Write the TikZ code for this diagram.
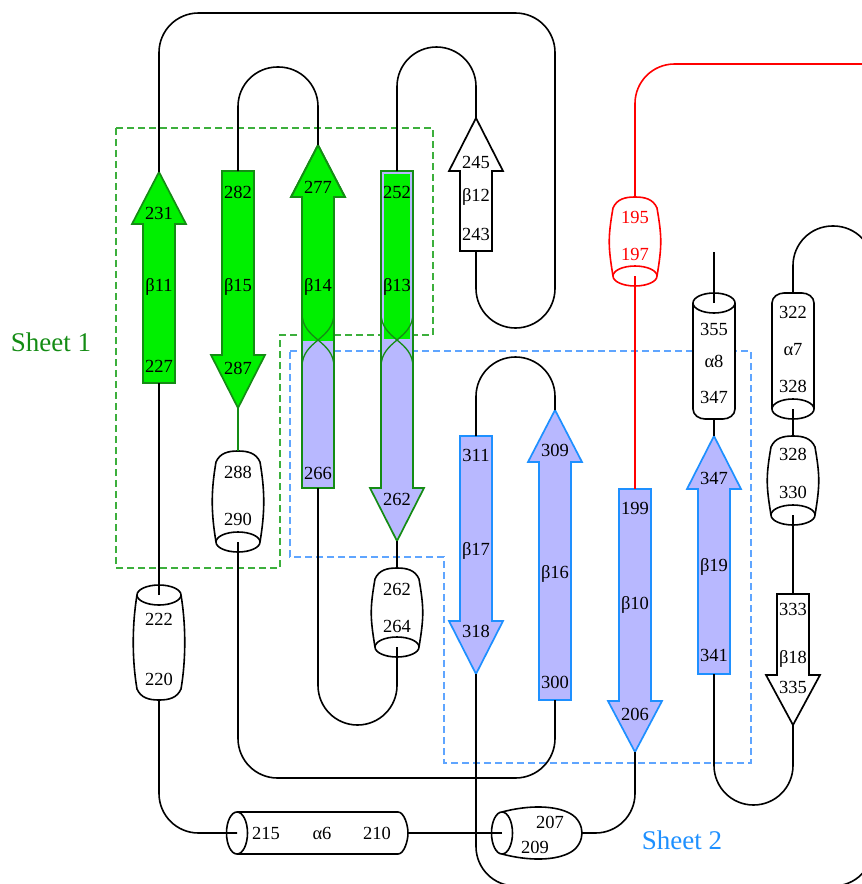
\documentclass[tikz,border=0pt]{standalone}
\usepackage{fontspec}
\setmainfont{Liberation Serif}
\usepackage{tikz}
\usetikzlibrary{calc}
\definecolor{sheetgreen}{RGB}{0,240,0}
\definecolor{edgegreen}{RGB}{20,140,20}
\definecolor{boxgreen}{RGB}{60,175,60}
\definecolor{sheetblue}{RGB}{30,144,255}
\definecolor{boxblue}{RGB}{95,165,255}
\definecolor{strandlav}{RGB}{184,184,255}

% strand pointing up: name, x, tip, head base, tail
\newcommand{\strandup}[6][]{%
  \draw[strand,#1] ({#3-16},#6) -- ({#3-16},#5) -- ({#3-27},#5) -- (#3,#4)
    -- ({#3+27},#5) -- ({#3+16},#5) -- ({#3+16},#6) -- cycle;
  \coordinate (#2 tip) at (#3,#4);
  \coordinate (#2 tail) at (#3,#6);}
% strand pointing down: name, x, tail, head base, tip
\newcommand{\stranddown}[6][]{%
  \draw[strand,#1] ({#3-16},#4) -- ({#3-16},#5) -- ({#3-27},#5) -- (#3,#6)
    -- ({#3+27},#5) -- ({#3+16},#5) -- ({#3+16},#4) -- cycle;
  \coordinate (#2 tip) at (#3,#6);
  \coordinate (#2 tail) at (#3,#4);}
% short helix (barrel): name, x, cap y, ellipse y
\newcommand{\barrel}[5][]{%
  \pgfmathsetmacro{\hsgn}{sign(#5-#4)}%
  \fill[white] ({#3-22},#5) .. controls ({#3-27},{#5-30*\hsgn}) and ({#3-27},{#4+40*\hsgn}) .. ({#3-22},{#4+11*\hsgn})
    .. controls ({#3-18},{#4+2*\hsgn}) and ({#3-10},#4) .. (#3,#4)
    .. controls ({#3+10},#4) and ({#3+18},{#4+2*\hsgn}) .. ({#3+22},{#4+11*\hsgn})
    .. controls ({#3+27},{#4+40*\hsgn}) and ({#3+27},{#5-30*\hsgn}) .. ({#3+22},#5) -- cycle;
  \draw[helix,#1] ({#3-22},#5) .. controls ({#3-27},{#5-30*\hsgn}) and ({#3-27},{#4+40*\hsgn}) .. ({#3-22},{#4+11*\hsgn})
    .. controls ({#3-18},{#4+2*\hsgn}) and ({#3-10},#4) .. (#3,#4)
    .. controls ({#3+10},#4) and ({#3+18},{#4+2*\hsgn}) .. ({#3+22},{#4+11*\hsgn})
    .. controls ({#3+27},{#4+40*\hsgn}) and ({#3+27},{#5-30*\hsgn}) .. ({#3+22},#5);
  \filldraw[helix,fill=white,#1] (#3,#5) ellipse (22 and 10);
  \coordinate (#2 cap) at (#3,#4);
  \coordinate (#2 ell) at (#3,#5);}
% long helix (cylinder): name, x, cap y, ellipse y
\newcommand{\cylinder}[5][]{%
  \pgfmathsetmacro{\hsgn}{sign(#5-#4)}%
  \fill[white] ({#3-21},#5) -- ({#3-21},{#4+10*\hsgn}) .. controls ({#3-21},{#4+4*\hsgn}) and ({#3-15},#4) .. ({#3-9},#4)
    -- ({#3+9},#4) .. controls ({#3+15},#4) and ({#3+21},{#4+4*\hsgn}) .. ({#3+21},{#4+10*\hsgn}) -- ({#3+21},#5) -- cycle;
  \draw[helix,#1] ({#3-21},#5) -- ({#3-21},{#4+10*\hsgn}) .. controls ({#3-21},{#4+4*\hsgn}) and ({#3-15},#4) .. ({#3-9},#4)
    -- ({#3+9},#4) .. controls ({#3+15},#4) and ({#3+21},{#4+4*\hsgn}) .. ({#3+21},{#4+10*\hsgn}) -- ({#3+21},#5);
  \filldraw[helix,fill=white,#1] (#3,#5) ellipse (21 and 10);
  \coordinate (#2 cap) at (#3,#4);
  \coordinate (#2 ell) at (#3,#5);}

\begin{document}
\begin{tikzpicture}[
    x=1pt, y=-1pt,
    every node/.style={font=\fontsize{18.5}{20}\selectfont, inner sep=0pt},
    strand/.style={line width=1.7pt, line join=miter},
    greenstrand/.style={fill=sheetgreen, draw=edgegreen},
    bluestrand/.style={fill=strandlav, draw=sheetblue},
    plainstrand/.style={fill=white, draw=black},
    helix/.style={line width=1.6pt},
    backbone/.style={line width=1.6pt, rounded corners=39.5pt},
    sheetbox/.style={line width=1.2pt, dash pattern=on 7pt off 4pt},
    sheetlabel/.style={font=\fontsize{27}{30}\selectfont}
]
\useasboundingbox (0,0) rectangle (862,884);
\clip (0,0) rectangle (862,884);

% Sheet outlines
\draw[sheetbox, boxgreen] (116,128) -- (433,128) -- (433,335) -- (280,335) -- (280,568) -- (116,568) -- cycle;
\draw[sheetbox, boxblue] (290,351) -- (751,351) -- (751,763) -- (444,763) -- (444,557) -- (290,557) -- cycle;
\node[sheetlabel, text=edgegreen] (sheet1) at (51,342) {Sheet 1};
\node[sheetlabel, text=sheetblue] (sheet2) at (682,840) {Sheet 2};

% Sheet 1 strands
\strandup[greenstrand]{b11}{159}{172}{224}{383}
\stranddown[greenstrand]{b15}{238}{171}{355}{408}
\strandup[greenstrand]{b14}{318}{145}{197}{488}
\fill[strandlav] (302,341) rectangle (334,487);
\strandup[fill=none, draw=edgegreen]{b14}{318}{145}{197}{488}
\draw[edgegreen, line width=1.3pt] (302,313) .. controls (302,340) and (334,340) .. (334,367);
\draw[edgegreen, line width=1.3pt] (334,313) .. controls (334,340) and (302,340) .. (302,367);
\stranddown[fill=strandlav, draw=edgegreen]{b13}{397}{171}{488}{541}
\fill[sheetgreen] (384,174) rectangle (410,339);
\draw[edgegreen, line width=1.3pt] (381,313) .. controls (381,340) and (413,340) .. (413,367);
\draw[edgegreen, line width=1.3pt] (413,313) .. controls (413,340) and (381,340) .. (381,367);
\strandup[plainstrand]{b12}{476}{118}{171}{251}

% Sheet 2 strands
\stranddown[bluestrand]{b17}{476}{436}{621}{674}
\strandup[bluestrand]{b16}{555}{410}{462}{700}
\stranddown[bluestrand]{b10}{635}{489}{701}{752}
\strandup[bluestrand]{b19}{714}{436}{489}{674}
\stranddown[plainstrand]{b18}{793}{594}{675}{725}

% Helices
\barrel{h222}{159}{700}{595}
\barrel{h288}{238}{451}{542}
\barrel{h262}{397}{568}{647}
\barrel[draw=red]{h195}{635}{197}{276}
\barrel{h328}{793}{436}{515}
\cylinder{a8}{714}{419}{303}
\cylinder{a7}{793}{293}{409}
\fill[white] (237,812) -- (398,812) .. controls (404,812) and (408,825) .. (408,833)
  .. controls (408,841) and (404,854) .. (398,854) -- (237,854) -- cycle;
\draw[helix] (237,812) -- (398,812) .. controls (404,812) and (408,825) .. (408,833)
  .. controls (408,841) and (404,854) .. (398,854) -- (237,854);
\filldraw[helix, fill=white] (237,833) ellipse (10.5 and 21);
\coordinate (a6 ell) at (237,833);
\coordinate (a6 cap) at (408,833);
\fill[white] (502,812) .. controls (528,805) and (556,805) .. (571,814) .. controls (578,818) and (582,826) .. (582,833)
  .. controls (582,840) and (578,848) .. (571,852) .. controls (556,861) and (528,861) .. (502,854) -- cycle;
\draw[helix] (502,812) .. controls (528,805) and (556,805) .. (571,814) .. controls (578,818) and (582,826) .. (582,833)
  .. controls (582,840) and (578,848) .. (571,852) .. controls (556,861) and (528,861) .. (502,854);
\filldraw[helix, fill=white] (502,833) ellipse (10.5 and 21);
\coordinate (h207 ell) at (502,833);
\coordinate (h207 cap) at (582,833);

% Chain, from the N-terminus
\coordinate (nterm) at (862,64);
\draw[backbone, red] (nterm) -| (h195 cap);
\draw[backbone, red] (h195 ell) -- (b10 tail);
\draw[backbone] (b10 tip) |- (h207 cap);
\draw[backbone] (h207 ell) -- (a6 cap);
\draw[backbone] (a6 ell) -| (h222 cap);
\draw[backbone] (h222 ell) -- (b11 tail);
\draw[backbone] (b11 tip) -- ++(0,-159) -- ++(396,0) -- ++(0,315) -| (b12 tail);
\draw[backbone] (b12 tip) -- ++(0,-71) -| (b13 tail);
\draw[backbone] (b13 tip) -- (h262 cap);
\draw[backbone] (h262 ell) -- ++(0,78) -| (b14 tail);
\draw[backbone] (b14 tip) -- ++(0,-78) -| (b15 tail);
\draw[backbone, edgegreen] (b15 tip) -- (h288 cap);
\draw[backbone] (h288 ell) -- ++(0,236) -| (b16 tail);
\draw[backbone] (b16 tip) -- ++(0,-53) -| (b17 tail);
\draw[backbone] (b17 tip) -- ++(0,212) -- ++(397,0) -- ++(0,-660) -| (a7 cap);
\draw[backbone] (a7 ell) -- (h328 cap);
\draw[backbone] (h328 ell) -- (b18 tail);
\draw[backbone] (b18 tip) -- ++(0,80) -| (b19 tail);
\draw[backbone] (b19 tip) -- (a8 cap);
\draw[backbone] (a8 ell) -- ++(0,-51) coordinate (cterm);

% Strand labels
\node (b11 hi) at (159,213) {231};
\node (b11 id) at (159,287) {β11};
\node (b11 lo) at (159,366) {227};
\node (b15 hi) at (238,192) {282};
\node (b15 id) at (238,287) {β15};
\node (b15 lo) at (238,368) {287};
\node (b14 hi) at (318,187) {277};
\node (b14 id) at (318,287) {β14};
\node (b14 lo) at (318,473) {266};
\node (b13 hi) at (397,192) {252};
\node (b13 id) at (397,287) {β13};
\node (b13 lo) at (397,499) {262};
\node (b12 hi) at (476,162) {245};
\node (b12 id) at (476,197) {β12};
\node (b12 lo) at (476,234) {243};
\node (b17 hi) at (476,455) {311};
\node (b17 id) at (476,551) {β17};
\node (b17 lo) at (476,631) {318};
\node (b16 hi) at (555,450) {309};
\node (b16 id) at (555,574) {β16};
\node (b16 lo) at (555,682) {300};
\node (b10 hi) at (635,508) {199};
\node (b10 id) at (635,605) {β10};
\node (b10 lo) at (635,714) {206};
\node (b19 hi) at (714,478) {347};
\node (b19 id) at (714,567) {β19};
\node (b19 lo) at (714,655) {341};
\node (b18 hi) at (793,609) {333};
\node (b18 id) at (793,659) {β18};
\node (b18 lo) at (793,687) {335};

% Helix labels
\node (h222 hi) at (159,619) {222};
\node (h222 lo) at (159,679) {220};
\node (h288 hi) at (238,472) {288};
\node (h288 lo) at (238,519) {290};
\node (h262 hi) at (397,589) {262};
\node (h262 lo) at (397,626) {264};
\node[text=red] (h195 hi) at (635,217) {195};
\node[text=red] (h195 lo) at (635,254) {197};
\node (h328 hi) at (793,454) {328};
\node (h328 lo) at (793,492) {330};
\node (a8 hi) at (714,329) {355};
\node (a8 id) at (714,361) {α8};
\node (a8 lo) at (714,397) {347};
\node (a7 hi) at (793,312) {322};
\node (a7 id) at (793,350) {α7};
\node (a7 lo) at (793,386) {328};
\node (a6 lo) at (266,833) {215};
\node (a6 id) at (322,833) {α6};
\node (a6 hi) at (377,833) {210};
\node (h207 hi) at (550,822) {207};
\node (h207 lo) at (535,847) {209};

\end{tikzpicture}
\end{document}
